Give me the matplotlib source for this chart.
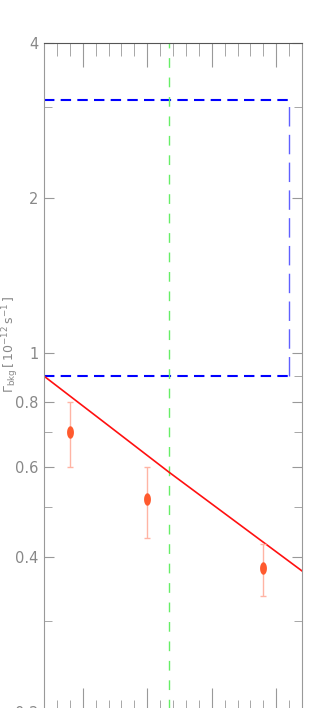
import numpy as np
import matplotlib.pyplot as plt
from matplotlib.ticker import FixedLocator, NullFormatter

# Data
z_pts = [4.9, 5.5, 6.4]
gamma_pts = [0.70, 0.52, 0.381]
err_lo = [0.10, 0.085, 0.045]
err_hi = [0.10, 0.08, 0.044]

z_model = [4.7, 5.2, 5.67, 6.2, 6.7]
gamma_model = [0.90, 0.721, 0.585, 0.466, 0.376]

box_z = [4.7, 6.6]
box_gamma = [0.90, 3.1]
z_mark = 5.67

ytick_vals = [0.2, 0.4, 0.6, 0.8, 1, 2, 4]
ytick_labels = ['0.2', '0.4', '0.6', '0.8', '1', '2', '4']
yminor_vals = [0.3, 0.5, 0.7, 0.9, 3]

fig = plt.figure(figsize=(3.19, 7.08), dpi=100)
ax = fig.add_axes([0.138, -0.0056, 0.809, 0.9448])

# blue box
ax.plot([box_z[0], box_z[1]], [box_gamma[1], box_gamma[1]], color='#0000ff',
        ls=(0, (5, 3)), lw=1.5)
ax.plot([box_z[0], box_z[1]], [box_gamma[0], box_gamma[0]], color='#0000ff',
        ls=(0, (5, 3)), lw=1.5)
ax.plot([box_z[1], box_z[1]], [box_gamma[0], box_gamma[1]], color='#6060ff',
        ls=(0, (14, 6)), lw=1.0)

# vertical marker
ax.axvline(z_mark, color='#66ee66', ls=(0, (7, 7)), lw=1.0)

# model line
ax.plot(z_model, gamma_model, color='#ff1010', lw=1.2)

# data points (tall ellipse markers)
t = np.linspace(0, 2 * np.pi, 30)
ellipse = list(zip(0.55 * np.cos(t), np.sin(t)))
ax.errorbar(z_pts, gamma_pts, yerr=[err_lo, err_hi], fmt='none',
            ecolor='#ffb4a4', elinewidth=1.0, capsize=2.5, capthick=1.0)
ax.plot(z_pts, gamma_pts, ls='none', marker=ellipse, ms=9, color='#ff5a2e',
        markeredgewidth=0)

ax.set_yscale('log')
ax.set_ylim(0.2, 4)
ax.set_xlim(4.7, 6.7)

ax.yaxis.set_major_locator(FixedLocator(ytick_vals))
ax.yaxis.set_minor_locator(FixedLocator(yminor_vals))
ax.set_yticklabels(ytick_labels)
ax.yaxis.set_minor_formatter(NullFormatter())
ax.xaxis.set_major_locator(FixedLocator([5.0, 5.5, 6.0, 6.5]))
ax.xaxis.set_minor_locator(FixedLocator(np.arange(4.8, 6.7, 0.1)))
ax.set_xticklabels([])

ax.tick_params(axis='both', which='both', direction='in', colors='#999999',
               labelcolor='#888888', top=True, right=True, bottom=True, left=True)
ax.tick_params(axis='y', which='major', length=7, labelsize=10.5, pad=4)
ax.tick_params(axis='y', which='minor', length=6)
ax.tick_params(axis='x', which='major', length=17)
ax.tick_params(axis='x', which='minor', length=9)

for s in ax.spines.values():
    s.set_color('#999999')
ax.spines['top'].set_color('#555555')

ax.set_ylabel(r'$\Gamma_{\rm bkg}\,[\,10^{-12}\,{\rm s}^{-1}\,]$', color='#888888',
              fontsize=9)
ax.yaxis.set_label_coords(-0.088, 0.55)

fig.savefig('out.png', dpi=100)
